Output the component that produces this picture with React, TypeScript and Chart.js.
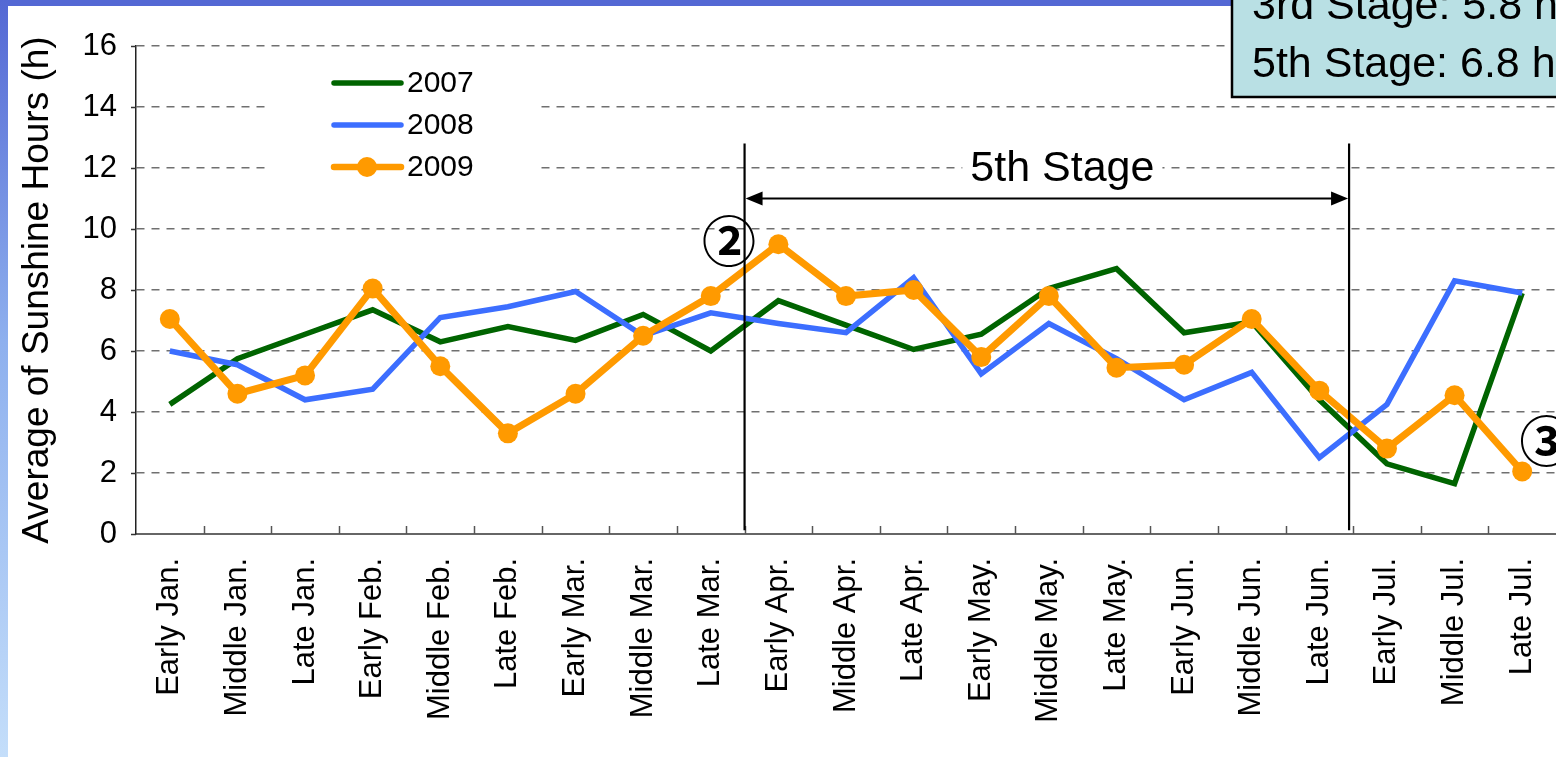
import React, { useEffect, useRef } from "react";
import { Chart, registerables } from "chart.js";

Chart.register(...registerables);

const categories = [
  "Early Jan.", "Middle Jan.", "Late Jan.",
  "Early Feb.", "Middle Feb.", "Late Feb.",
  "Early Mar.", "Middle Mar.", "Late Mar.",
  "Early Apr.", "Middle Apr.", "Late Apr.",
  "Early May.", "Middle May.", "Late May.",
  "Early Jun.", "Middle Jun.", "Late Jun.",
  "Early Jul.", "Middle Jul.", "Late Jul.",
];
const series2007 = [4.25, 5.75, 6.55, 7.35, 6.3, 6.8, 6.35, 7.2, 6.0, 7.65, 6.85, 6.05, 6.55, 8.05, 8.7, 6.6, 6.95, 4.4, 2.3, 1.65, 7.9];
const series2008 = [6.0, 5.55, 4.4, 4.75, 7.1, 7.45, 7.95, 6.5, 7.25, 6.9, 6.6, 8.4, 5.25, 6.9, 5.75, 4.4, 5.3, 2.5, 4.25, 8.3, 7.9];
const series2009 = [7.05, 4.6, 5.2, 8.05, 5.5, 3.3, 4.6, 6.5, 7.8, 9.5, 7.8, 8.0, 5.8, 7.8, 5.45, 5.55, 7.05, 4.7, 2.8, 4.55, 2.05];
const seriesNames = ["2007", "2008", "2009"];
const seriesColors = ["#006400", "#3c6eff", "#ff9a00"];
const yTicks = [0, 2, 4, 6, 8, 10, 12, 14, 16];
const yTitle = "Average of Sunshine Hours (h)";
const stageLabel = "5th Stage";
const boxLines = ["3rd Stage: 5.8 h", "5th Stage: 6.8 h"];
const markTwo = "②";
const markThree = "③";

const FONT = "'Liberation Sans', Arial, sans-serif";

const decorPlugin = {
  id: "decor",
  beforeDraw(chart: any) {
    const { ctx, width, height } = chart;
    ctx.save();
    ctx.fillStyle = "#ffffff";
    ctx.fillRect(0, 0, width, height);
    ctx.fillStyle = "#5468d4";
    ctx.fillRect(0, 0, width, 6);
    const g = ctx.createLinearGradient(0, 0, 0, height);
    g.addColorStop(0, "#5468d4");
    g.addColorStop(0.45, "#8eb0ee");
    g.addColorStop(1, "#c4defa");
    ctx.fillStyle = g;
    ctx.fillRect(0, 0, 8, height);
    ctx.restore();
  },
  beforeDatasetsDraw(chart: any) {
    const { ctx } = chart;
    const x = chart.scales.x;
    const y = chart.scales.y;
    ctx.save();
    // legend
    ctx.fillStyle = "#ffffff";
    ctx.fillRect(265, 58, 270, 130);
    const rows = [83, 125, 167];
    for (let i = 0; i < 3; i++) {
      ctx.strokeStyle = seriesColors[i];
      ctx.lineWidth = i === 2 ? 6.5 : 5.5;
      ctx.lineCap = "round";
      ctx.beginPath();
      ctx.moveTo(334, rows[i]);
      ctx.lineTo(401, rows[i]);
      ctx.stroke();
      if (i === 2) {
        ctx.fillStyle = seriesColors[i];
        ctx.beginPath();
        ctx.arc(367, rows[i], 10, 0, Math.PI * 2);
        ctx.fill();
      }
      ctx.fillStyle = "#000";
      ctx.font = `30px ${FONT}`;
      ctx.textAlign = "left";
      ctx.textBaseline = "middle";
      ctx.fillText(seriesNames[i], 407, rows[i] + 1);
    }
    // stage label
    const cx = x.getPixelForValue(13.2);
    const cy = y.getPixelForValue(12);
    ctx.font = `43px ${FONT}`;
    const w = ctx.measureText(stageLabel).width;
    ctx.fillStyle = "#ffffff";
    ctx.fillRect(cx - w / 2 - 8, cy - 24, w + 16, 48);
    ctx.fillStyle = "#000";
    ctx.textAlign = "center";
    ctx.textBaseline = "middle";
    ctx.fillText(stageLabel, cx, cy + 1);
    ctx.restore();
  },
  afterDraw(chart: any) {
    const { ctx, chartArea } = chart;
    const x = chart.scales.x;
    const y = chart.scales.y;
    ctx.save();
    // inner x ticks
    ctx.strokeStyle = "#555";
    ctx.lineWidth = 1.5;
    for (let i = 0; i < categories.length - 1; i++) {
      const px = Math.round(x.getPixelForValue(i + 0.5)) + 0.5;
      ctx.beginPath();
      ctx.moveTo(px, chartArea.bottom);
      ctx.lineTo(px, chartArea.bottom - 8);
      ctx.stroke();
    }
    // outer y ticks
    ctx.strokeStyle = "#333";
    for (const v of yTicks) {
      const py = Math.round(y.getPixelForValue(v)) + 0.5;
      ctx.beginPath();
      ctx.moveTo(chartArea.left - 5, py);
      ctx.lineTo(chartArea.left, py);
      ctx.stroke();
    }
    // stage boundaries
    const xa = x.getPixelForValue(8.5);
    const xb = x.getPixelForValue(17.44);
    const yTop = y.getPixelForValue(12.8);
    const yBot = y.getPixelForValue(0.12);
    ctx.strokeStyle = "#000";
    ctx.lineWidth = 2.2;
    for (const px of [xa, xb]) {
      ctx.beginPath();
      ctx.moveTo(px, yTop);
      ctx.lineTo(px, yBot);
      ctx.stroke();
    }
    // arrow
    const ay = y.getPixelForValue(11);
    const ah = 17;
    ctx.lineWidth = 2;
    ctx.beginPath();
    ctx.moveTo(xa + ah, ay);
    ctx.lineTo(xb - ah, ay);
    ctx.stroke();
    ctx.fillStyle = "#000";
    ctx.beginPath();
    ctx.moveTo(xa + 1, ay);
    ctx.lineTo(xa + 1 + ah, ay - 7);
    ctx.lineTo(xa + 1 + ah, ay + 7);
    ctx.closePath();
    ctx.fill();
    ctx.beginPath();
    ctx.moveTo(xb - 1, ay);
    ctx.lineTo(xb - 1 - ah, ay - 7);
    ctx.lineTo(xb - 1 - ah, ay + 7);
    ctx.closePath();
    ctx.fill();
    // circled marks
    ctx.font = `bold 54px 'Noto Sans CJK JP', 'DejaVu Sans', sans-serif`;
    ctx.textAlign = "center";
    ctx.textBaseline = "middle";
    ctx.fillText(markTwo, x.getPixelForValue(8.27), y.getPixelForValue(9.6));
    ctx.fillText(markThree, x.getPixelForValue(20.36), y.getPixelForValue(3.03));
    // text box
    ctx.fillStyle = "#b9e0e4";
    ctx.fillRect(1232, -10, 400, 107);
    ctx.strokeStyle = "#000";
    ctx.lineWidth = 2.5;
    ctx.strokeRect(1232, -10, 400, 107);
    ctx.fillStyle = "#000";
    ctx.font = `43px ${FONT}`;
    ctx.textAlign = "left";
    ctx.textBaseline = "alphabetic";
    ctx.fillText(boxLines[0], 1252, 19);
    ctx.fillText(boxLines[1], 1252, 77);
    ctx.restore();
  },
};

export default function App() {
  const ref = useRef<HTMLCanvasElement | null>(null);
  useEffect(() => {
    if (!ref.current) return;
    const chart = new Chart(ref.current, {
      type: "line",
      data: {
        labels: categories,
        datasets: [
          {
            label: seriesNames[2],
            data: series2009,
            borderColor: seriesColors[2],
            backgroundColor: seriesColors[2],
            borderWidth: 7,
            pointRadius: 10,
            pointHoverRadius: 10,
            pointBorderWidth: 0,
            pointBackgroundColor: seriesColors[2],
            tension: 0,
            order: 0,
          },
          {
            label: seriesNames[1],
            data: series2008,
            borderColor: seriesColors[1],
            backgroundColor: seriesColors[1],
            borderWidth: 5.5,
            pointRadius: 0,
            tension: 0,
            borderJoinStyle: "miter",
            order: 1,
          },
          {
            label: seriesNames[0],
            data: series2007,
            borderColor: seriesColors[0],
            backgroundColor: seriesColors[0],
            borderWidth: 5.5,
            pointRadius: 0,
            tension: 0,
            borderJoinStyle: "miter",
            order: 2,
          },
        ],
      },
      options: {
        animation: false,
        responsive: false,
        maintainAspectRatio: false,
        events: [],
        layout: { autoPadding: false, padding: { left: 12, top: 46, right: 0, bottom: 0 } },
        plugins: {
          legend: { display: false },
          tooltip: { enabled: false },
        },
        scales: {
          x: {
            type: "category",
            offset: true,
            grid: { display: false, drawTicks: false },
            border: { display: true, color: "#666", width: 2 },
            ticks: {
              autoSkip: false,
              maxRotation: 90,
              minRotation: 90,
              padding: 24,
              color: "#000",
              font: { family: FONT, size: 31 },
            },
            afterFit: (s: any) => {
              s.height = 223;
              s.paddingLeft = 0;
              s.paddingRight = 0;
            },
          },
          y: {
            min: 0,
            max: 16,
            afterBuildTicks: (s: any) => {
              s.ticks = yTicks.map((v) => ({ value: v }));
            },
            grid: {
              color: "#707070",
              lineWidth: 1.5,
              drawTicks: false,
            },
            border: { display: true, color: "#222", width: 1.5, dash: [8, 7] },
            ticks: {
              padding: 19,
              color: "#000",
              font: { family: FONT, size: 31 },
            },
            title: {
              display: true,
              text: yTitle,
              color: "#000",
              font: { family: FONT, size: 37 },
              padding: { top: 4, bottom: 0 },
            },
            afterFit: (s: any) => {
              s.width = 124;
              s.paddingTop = 0;
              s.paddingBottom = 0;
            },
          },
        },
      },
      plugins: [decorPlugin],
    });
    return () => chart.destroy();
  }, []);
  return (
    <div style={{ position: "fixed", left: 0, top: 0, width: 1556, height: 757, background: "#fff" }}>
      <canvas ref={ref} width={1556} height={757} style={{ display: "block", width: 1556, height: 757 }} />
    </div>
  );
}
